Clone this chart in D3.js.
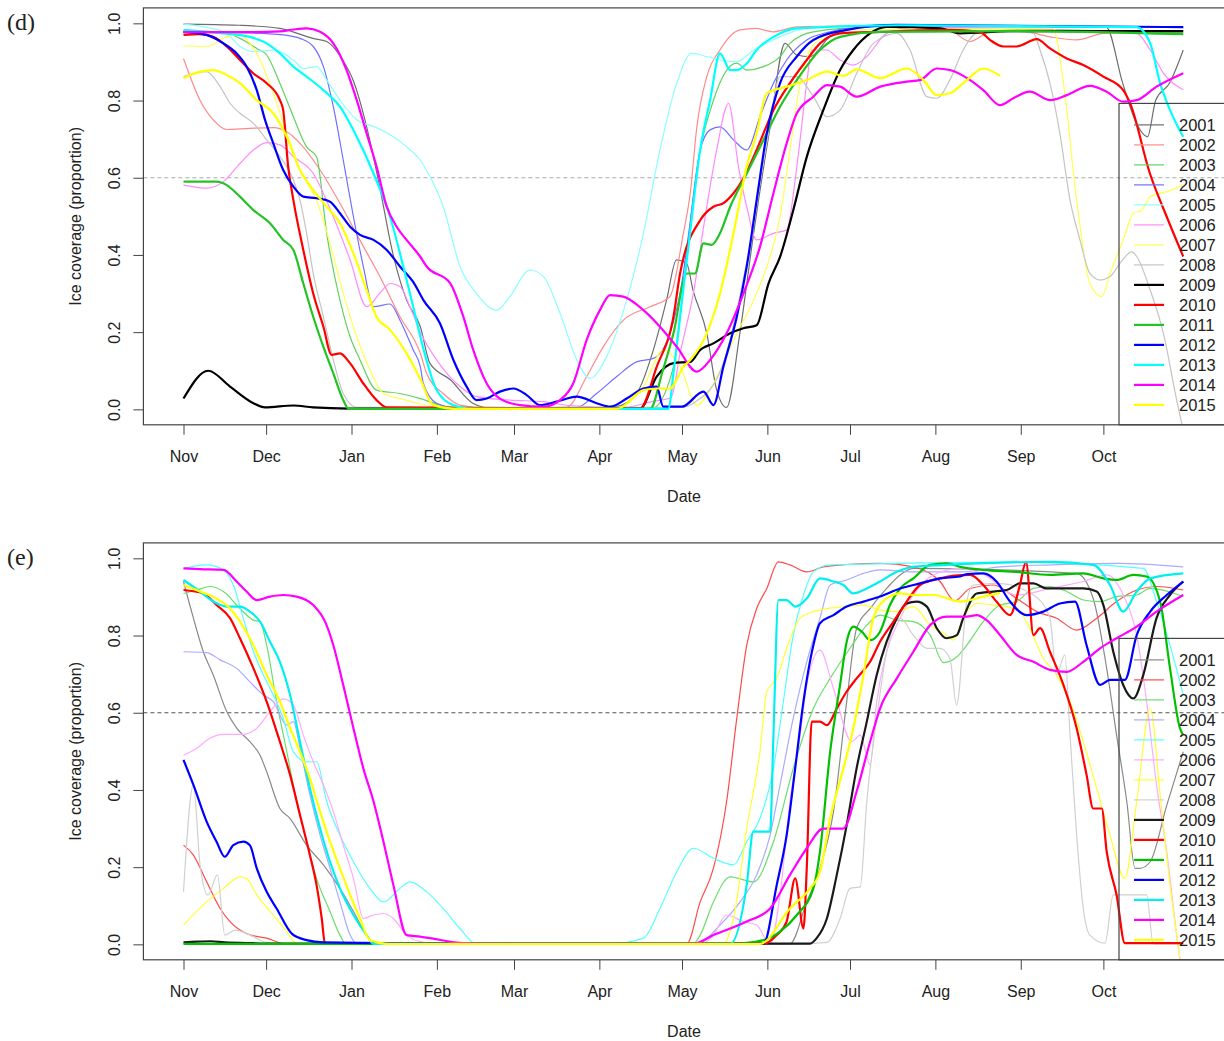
<!DOCTYPE html>
<html>
<head>
<meta charset="utf-8">
<script src="https://cdn.jsdelivr.net/npm/d3@7"></script>
<style>
  body { margin: 0; background: #fff; }
  text { font-family: "Liberation Sans", Arial, sans-serif; fill: #222; }
</style>
</head>
<body>
<svg></svg>
<script>
// day 0 = 1 Nov, values = ice coverage proportion
var years = ["2001","2002","2003","2004","2005","2006","2007","2008","2009","2010","2011","2012","2013","2014","2015"];
var monthDays = [0, 30, 61, 92, 120, 151, 181, 212, 242, 273, 304, 334];
var monthLabels = ["Nov","Dec","Jan","Feb","Mar","Apr","May","Jun","Jul","Aug","Sep","Oct"];
var yTicks = [0, 0.2, 0.4, 0.6, 0.8, 1.0];
var threshold = 0.6;

// ---- panel (d)
var d2001 = [[0,0.998],[20,0.995],[35,0.987],[47,0.961],[52,0.953],[57,0.914],[62,0.845],[66.5,0.732],[71,0.585],[76,0.404],[81,0.283],[86,0.214],[89.5,0.119],[97,0.076],[105,0.016],[112,0.003],[150,0.003],[157,0.007],[164.5,0.041],[170.6,0.154],[175.4,0.283],[179,0.387],[182.7,0.378],[185,0.309],[190,0.197],[193.6,0.05],[197.2,0.005],[202,0.197],[207,0.456],[213,0.732],[218.4,0.948],[222.7,0.918],[227.5,0.914],[234.8,0.965],[247,0.99],[300,0.99],[335,0.99],[341,0.845],[346,0.741],[350,0.706],[353,0.801],[358,0.845],[363,0.931]];
var d2002 = [[0,0.909],[6,0.801],[10.8,0.75],[15.7,0.725],[24,0.728],[32.6,0.73],[37.5,0.719],[42.3,0.689],[49.6,0.62],[56.8,0.534],[64,0.439],[71.3,0.344],[78.6,0.24],[86,0.145],[88.3,0.093],[94.3,0.041],[100.4,0.011],[110,0.003],[139,0.005],[146.4,0.085],[152.4,0.162],[159.7,0.231],[169.4,0.266],[176.6,0.292],[181.5,0.456],[184,0.56],[186.4,0.732],[190,0.862],[194.8,0.931],[202,0.983],[208,0.987],[214,0.978],[222.7,0.991],[260,0.995],[278,0.983],[285.6,0.953],[292.8,0.978],[302.5,0.983],[314.6,0.965],[324.3,0.957],[334,0.974],[363,0.978]];
var d2003 = [[0,0.977],[15,0.975],[20.5,0.961],[26.6,0.935],[30.2,0.918],[35,0.845],[39.9,0.758],[44.7,0.68],[48.3,0.655],[52,0.456],[56.8,0.283],[60.5,0.188],[64.1,0.128],[70.1,0.05],[78.6,0.041],[86,0.028],[95,0.008],[105,0.002],[170,0.002],[177.9,0.11],[182.7,0.4],[186.4,0.62],[192.4,0.8],[200.9,0.897],[204.5,0.879],[210.6,0.888],[216.6,0.914],[220.2,0.948],[228.7,0.978],[250,0.99],[363,0.975]];
var d2004 = [[0,0.977],[25,0.975],[36.2,0.97],[42.3,0.961],[47.1,0.94],[50.8,0.888],[54.4,0.784],[58,0.646],[61.7,0.499],[65.3,0.37],[69,0.266],[75,0.273],[78.6,0.231],[83.4,0.154],[86,0.11],[87.1,0.067],[91.9,0.016],[100,0.003],[142.8,0.005],[150,0.041],[157.3,0.085],[164.5,0.123],[170.6,0.132],[176.6,0.197],[181,0.33],[183.5,0.46],[187.6,0.672],[191.2,0.724],[194.8,0.732],[199.7,0.698],[204.5,0.672],[209.3,0.758],[214.2,0.845],[219,0.905],[226.3,0.957],[234.8,0.978],[253,0.996],[363,0.99]];
var d2005 = [[0,0.998],[8,0.99],[15.7,0.974],[20.5,0.94],[25.4,0.927],[32.6,0.931],[39.9,0.905],[43.5,0.883],[48.3,0.888],[52,0.853],[56.8,0.801],[62.9,0.75],[69,0.733],[76.2,0.706],[81,0.68],[85.9,0.646],[89.5,0.603],[94.3,0.525],[100.4,0.37],[106.4,0.3],[113.7,0.257],[118.5,0.292],[125.8,0.361],[130.7,0.344],[136.7,0.249],[142.8,0.128],[147.6,0.08],[153.6,0.136],[160.9,0.283],[167,0.456],[173,0.672],[179.1,0.845],[184.5,0.922],[190,0.914],[194.8,0.905],[200.9,0.901],[207,0.931],[216.6,0.965],[228.7,0.99],[363,0.99]];
var d2006 = [[0,0.581],[8.4,0.573],[14.5,0.59],[20.5,0.637],[25.4,0.672],[30.2,0.691],[35,0.685],[39.9,0.655],[47.1,0.611],[54.4,0.499],[60.5,0.387],[66.5,0.266],[71.3,0.301],[75,0.326],[78.6,0.318],[82.2,0.266],[86,0.2],[91.9,0.128],[100.4,0.059],[106.4,0.033],[118.5,0.024],[130.7,0.02],[140,0.01],[160,0.005],[170,0.02],[177,0.03],[180.3,0.145],[185.1,0.3],[190,0.525],[193.6,0.672],[197.9,0.793],[201.5,0.629],[204.5,0.525],[208.1,0.439],[214.2,0.456],[219,0.465],[222.7,0.629],[226.3,0.845],[228.1,0.931],[233.6,0.931],[238.4,0.905],[243.2,0.892],[248.1,0.914],[255.3,0.974],[265,0.99],[346,0.974],[351,0.931],[355.8,0.871],[363,0.828]];
var d2007 = [[0,0.942],[8.4,0.94],[15.7,0.965],[20.5,0.97],[24.1,0.948],[27.8,0.905],[32.6,0.819],[37.5,0.715],[42.3,0.62],[48.3,0.542],[53.2,0.43],[58,0.301],[62.9,0.188],[67.7,0.102],[72.6,0.041],[78.6,0.028],[84.7,0.016],[95,0.003],[157,0.003],[167,0.059],[174.2,0.154],[180.3,0.111],[186.4,0.011],[192.4,0.067],[200.9,0.197],[207,0.283],[211.8,0.37],[216.6,0.499],[220.2,0.672],[223.9,0.845],[227.5,0.931],[232.3,0.965],[240.8,0.983],[315.8,0.987],[319.5,0.845],[324.3,0.542],[329.1,0.326],[333.4,0.292],[336.4,0.352],[341.2,0.439],[344.9,0.508],[347.9,0.516],[351,0.551],[357,0.564],[363,0.581]];
var d2008 = [[0,0.862],[8.4,0.875],[13.3,0.836],[16.9,0.793],[20.5,0.767],[25.4,0.741],[30.2,0.698],[35,0.655],[39.9,0.594],[42.3,0.542],[44.7,0.456],[47.1,0.352],[50.8,0.24],[54.4,0.128],[58,0.041],[62.9,0.005],[180,0.005],[186,0.02],[195,0.1],[205,0.4],[212,0.7],[216.6,0.862],[222.7,0.862],[228.7,0.81],[233.6,0.758],[238.4,0.775],[244.4,0.87],[250.5,0.948],[259,0.974],[263.8,0.931],[269.9,0.81],[273.5,0.806],[278.3,0.854],[283.1,0.931],[288,0.974],[302.5,0.979],[308.6,0.974],[311,0.931],[314.6,0.845],[318.2,0.715],[321.9,0.542],[325.5,0.439],[329.1,0.352],[332.8,0.335],[336.4,0.344],[340,0.378],[344.3,0.408],[346.1,0.396],[351,0.309],[355.8,0.197],[360.6,0.024],[363,-0.054]];
var d2009 = [[0,0.028],[9,0.1],[16.9,0.059],[25.4,0.016],[29.6,0.005],[39.9,0.01],[47,0.005],[60,0.002],[165.8,0.002],[171.8,0.085],[177.9,0.12],[184,0.123],[187.6,0.154],[192.4,0.171],[198.5,0.197],[203.3,0.21],[208.1,0.218],[212.4,0.326],[216.6,0.395],[221.4,0.516],[226.3,0.654],[232.3,0.775],[238.4,0.879],[243.2,0.931],[249.3,0.974],[255.3,0.991],[265,0.99],[274.7,0.987],[282,0.974],[300,0.98],[363,0.98]];
var d2010 = [[0,0.97],[5.9,0.972],[10.8,0.965],[15.7,0.94],[20.5,0.905],[25.4,0.87],[30.2,0.845],[35,0.801],[36.2,0.775],[38,0.629],[39.9,0.542],[43.5,0.413],[47.1,0.3],[50.8,0.214],[53.8,0.141],[56.8,0.145],[60.5,0.119],[65.3,0.067],[70.1,0.024],[73.8,0.005],[165.8,0.002],[171.8,0.11],[177.9,0.24],[180.3,0.352],[187.6,0.49],[192.4,0.525],[196,0.534],[199.7,0.56],[203.3,0.598],[208.1,0.672],[214.2,0.775],[220.2,0.845],[226.3,0.905],[231.1,0.948],[238.4,0.974],[253,0.978],[278.3,0.983],[289.2,0.978],[292.8,0.957],[297.7,0.94],[302.5,0.94],[309.8,0.959],[314.6,0.935],[320.7,0.909],[326.7,0.892],[334,0.862],[341.2,0.827],[343.7,0.793],[350.9,0.611],[357,0.499],[363,0.396]];
var d2011 = [[0,0.59],[12,0.59],[15.7,0.581],[20.5,0.551],[25.4,0.516],[31.4,0.482],[36.2,0.439],[39.9,0.413],[43.5,0.326],[47.1,0.24],[50.8,0.162],[54.4,0.093],[58,0.024],[60,0.001],[169.4,0.001],[174,0.1],[177.9,0.197],[182.7,0.352],[185.7,0.352],[188.8,0.43],[191.8,0.426],[194.8,0.456],[198.5,0.525],[204.5,0.611],[210.6,0.698],[216.6,0.784],[222.7,0.853],[231.1,0.931],[238.4,0.965],[253,0.978],[300,0.98],[363,0.972]];
var d2012 = [[0,0.978],[8.4,0.97],[14.5,0.948],[19.3,0.922],[22.9,0.888],[26.6,0.827],[29.6,0.75],[32.6,0.689],[36.2,0.62],[39.9,0.577],[43.5,0.551],[48.3,0.547],[53.2,0.538],[56.8,0.508],[60.5,0.473],[64.1,0.452],[69,0.439],[73.8,0.413],[78.6,0.37],[83.4,0.33],[87.1,0.283],[93.1,0.223],[98,0.128],[102.8,0.059],[106.4,0.024],[110.1,0.028],[114.9,0.046],[119.8,0.054],[124.6,0.037],[129.4,0.011],[135.5,0.02],[142.8,0.033],[150,0.016],[154.9,0.007],[160.9,0.028],[167,0.054],[171.8,0.059],[174.2,0.007],[181,0.007],[188.8,0.046],[192.4,0.011],[196,0.11],[200.9,0.24],[204.5,0.37],[208.1,0.542],[211.8,0.715],[216.6,0.845],[222.7,0.914],[228.7,0.957],[240.8,0.983],[259,0.996],[363,0.99]];
var d2013 = [[0,0.983],[14.5,0.974],[24.1,0.965],[30.2,0.948],[35,0.922],[39.9,0.888],[44.7,0.862],[50.8,0.827],[56.8,0.784],[62.9,0.706],[69,0.611],[75,0.499],[79.8,0.37],[83.4,0.266],[87,0.16],[91.9,0.05],[98,0.011],[105,0.001],[176,0.001],[178,0.1],[180.3,0.24],[183.9,0.456],[187.6,0.672],[191.2,0.801],[194.8,0.922],[198.5,0.879],[200.9,0.879],[204.5,0.896],[208.1,0.931],[214.2,0.965],[222.7,0.987],[260,0.995],[346,0.99],[351,0.948],[354.6,0.845],[358.2,0.775],[363,0.706]];
var d2014 = [[0,0.977],[20.5,0.977],[35,0.979],[39.9,0.984],[44.7,0.987],[49.6,0.978],[54.4,0.948],[59.2,0.879],[62.9,0.801],[66.5,0.715],[70.1,0.629],[73.8,0.525],[77.4,0.473],[81,0.439],[85.9,0.396],[88.3,0.37],[96.8,0.327],[101.6,0.24],[105.2,0.154],[110.1,0.067],[114.9,0.028],[122.2,0.011],[130.7,0.007],[136.7,0.024],[141.5,0.067],[146.4,0.18],[151.2,0.257],[154.9,0.296],[159.7,0.292],[167,0.257],[173,0.214],[179.1,0.162],[186.4,0.098],[191.2,0.128],[197.2,0.197],[203.3,0.3],[209.3,0.421],[214.2,0.56],[219,0.689],[222.7,0.767],[228.7,0.81],[233.6,0.84],[238.4,0.836],[244.4,0.81],[253,0.836],[262.6,0.849],[267.4,0.853],[273.5,0.883],[278.3,0.879],[285.6,0.853],[290.4,0.827],[296.5,0.788],[301.3,0.806],[307.3,0.823],[314.6,0.801],[320.7,0.814],[329.1,0.838],[335.2,0.823],[341.2,0.797],[346.1,0.801],[353.3,0.836],[363,0.871]];
var d2015 = [[0,0.858],[6,0.875],[10.8,0.879],[15.7,0.866],[20.5,0.845],[26.6,0.801],[32.6,0.767],[37.5,0.706],[42.3,0.62],[47.1,0.568],[52,0.525],[56.8,0.482],[61.7,0.404],[66.5,0.309],[70.1,0.24],[75,0.206],[81,0.145],[85.9,0.08],[90.7,0.011],[100,0.001],[157.3,0.001],[167,0.05],[171.8,0.054],[176.6,0.054],[181.5,0.11],[184,0.128],[190,0.197],[194.8,0.3],[199.7,0.456],[204.5,0.629],[208.1,0.715],[211.8,0.819],[219,0.836],[226.3,0.853],[233.6,0.875],[239.6,0.864],[244.4,0.881],[253,0.858],[262.6,0.883],[268.7,0.853],[273.5,0.814],[278.3,0.819],[284.4,0.853],[290.4,0.883],[296.5,0.864]];

// ---- panel (e)
var e2001 = [[0,0.94],[3.6,0.845],[7.2,0.758],[10.8,0.698],[15.7,0.603],[19.3,0.56],[24.1,0.525],[27.8,0.49],[30.2,0.447],[35,0.352],[38.7,0.326],[44.7,0.257],[50.8,0.206],[56.8,0.145],[61.7,0.085],[66.5,0.024],[69,0.001],[220.2,0.001],[226.3,0.11],[231.1,0.197],[236,0.344],[240.8,0.629],[244.4,0.819],[249.3,0.87],[255.3,0.922],[260.2,0.957],[265,0.974],[324.3,0.961],[330.3,0.896],[335.2,0.715],[338.8,0.542],[342.5,0.37],[345.5,0.197],[347.3,0.197],[351,0.214],[357,0.36],[363,0.499]];
var e2002 = [[0,0.257],[3.6,0.231],[8.4,0.162],[13.3,0.093],[16.9,0.059],[22.9,0.028],[30.2,0.016],[37.5,0.001],[182.7,0.001],[187.6,0.11],[192.4,0.197],[197.2,0.37],[200.9,0.586],[204.5,0.775],[208.1,0.87],[211.8,0.922],[216,0.991],[220.2,0.983],[226.3,0.965],[232.3,0.978],[240.8,0.984],[252.9,0.987],[265,0.978],[274.7,0.94],[280,0.89],[285.6,0.922],[294,0.931],[302.5,0.896],[309.8,0.862],[317,0.845],[324.3,0.814],[331.6,0.845],[338.8,0.888],[346.1,0.918],[353.3,0.927],[363,0.918]];
var e2003 = [[0,0.909],[4.8,0.918],[9.6,0.927],[14.5,0.914],[20.5,0.87],[25.4,0.84],[27.8,0.836],[30.2,0.775],[33.8,0.629],[37.5,0.499],[41.1,0.37],[44.7,0.266],[48.3,0.171],[53.2,0.085],[56.8,0.024],[59,0.001],[185,0.001],[187.6,0.024],[192.4,0.11],[198.5,0.175],[207,0.162],[214.2,0.266],[221.4,0.456],[228.7,0.611],[234.8,0.689],[242,0.767],[248.1,0.827],[252.9,0.853],[259,0.84],[265,0.836],[271.1,0.801],[276,0.73],[280.8,0.745],[284.4,0.775],[290.4,0.836],[296.5,0.879],[302.5,0.888],[308.6,0.922],[314.6,0.927],[320.7,0.914],[326.7,0.892],[332.8,0.888],[338.8,0.901],[346.1,0.905],[351,0.922],[363,0.901]];
var e2004 = [[0,0.758],[8.4,0.756],[13.3,0.737],[19.3,0.715],[24.1,0.68],[29,0.646],[32.6,0.629],[37.5,0.568],[39.9,0.577],[42.3,0.508],[45.9,0.387],[49.6,0.283],[53.2,0.197],[56.8,0.11],[60.5,0.024],[63,0.001],[186.4,0.001],[194.8,0.05],[202.1,0.11],[208.1,0.18],[213,0.283],[216.6,0.413],[221.4,0.586],[226.3,0.732],[231.1,0.845],[234.8,0.931],[240.8,0.944],[246.9,0.961],[252.9,0.97],[265,0.965],[282,0.965],[296.5,0.978],[314.6,0.983],[338.8,0.987],[363,0.978]];
var e2005 = [[0,0.974],[8.4,0.983],[14.5,0.97],[18.1,0.931],[21.7,0.845],[25.4,0.758],[29,0.698],[32.6,0.646],[36.2,0.586],[39.9,0.499],[44.7,0.473],[48.3,0.473],[52,0.37],[56.8,0.283],[61.7,0.214],[67.7,0.145],[72.6,0.11],[78.6,0.145],[82.2,0.162],[88.3,0.136],[94.3,0.093],[100.4,0.041],[106.4,0.001],[155,0.001],[167,0.016],[173,0.093],[179.1,0.188],[185.1,0.249],[192.4,0.223],[199.7,0.206],[204.5,0.266],[209.3,0.326],[214.2,0.456],[217.8,0.629],[221.4,0.801],[225.1,0.905],[228.7,0.965],[234.8,0.983],[300,0.99],[348.5,0.974],[353.3,0.888],[358.2,0.775],[363,0.646]];
var e2006 = [[0,0.49],[4.8,0.508],[9.6,0.534],[14.5,0.544],[21.7,0.544],[26.6,0.56],[31.4,0.603],[36.2,0.636],[39.9,0.62],[43.5,0.542],[47.1,0.473],[50.8,0.413],[54.4,0.344],[58,0.257],[61.7,0.171],[65.3,0.067],[69,0.076],[72.6,0.08],[76.2,0.067],[81,0.024],[85.9,0.007],[92,0.001],[188,0.001],[192.4,0.024],[197.2,0.076],[203.3,0.059],[208.1,0.05],[213,0.0],[216.6,0.128],[220.2,0.37],[223.9,0.542],[226.3,0.672],[231.1,0.762],[236,0.663],[242.6,0.525],[245.7,0.542],[249.3,0.465],[251.7,0.629],[255.3,0.758],[260.2,0.845],[265,0.905],[272.3,0.957],[282,0.974],[290,0.96],[302.5,0.905],[314.6,0.922],[326.7,0.94],[335.2,0.957],[341.2,0.905],[346.1,0.801],[349.7,0.629],[353.3,0.413],[357,0.24],[360.6,0.024],[362,-0.05]];
var e2007 = [[0,0.05],[8.4,0.11],[14.5,0.145],[20.5,0.175],[22.9,0.171],[26.6,0.128],[32.6,0.076],[37.5,0.033],[41.1,0.001],[196,0.001],[199.7,0.067],[204.5,0.3],[209.3,0.499],[211.8,0.655],[215.4,0.689],[219,0.767],[223.9,0.845],[228.7,0.862],[233.6,0.87],[240.8,0.875],[246.9,0.879],[253,0.866],[259,0.862],[265,0.875],[271.1,0.827],[277.1,0.801],[279.5,0.788],[283.1,0.845],[288,0.883],[294,0.879],[298.9,0.875],[303.7,0.862],[307.3,0.819],[312.2,0.741],[317,0.698],[321.9,0.629],[326.7,0.525],[331.6,0.404],[336.4,0.283],[341.8,0.171],[346.1,0.37],[351,0.611],[354.6,0.387],[358.2,0.154],[361.8,-0.036]];
var e2008 = [[0,0.136],[3.6,0.413],[6,0.206],[8.9,0.128],[12.3,0.18],[15,0.024],[18.7,0.037],[24.1,0.024],[30.2,0.005],[40,0.001],[221.4,0.001],[233.6,0.005],[238.4,0.067],[242,0.145],[245.7,0.149],[248.1,0.37],[251.7,0.586],[255.3,0.758],[260.2,0.845],[265,0.801],[269.9,0.767],[274.7,0.767],[278.3,0.74],[280.7,0.62],[284.4,0.888],[286.8,0.931],[296,0.935],[308.6,0.905],[314.6,0.845],[317,0.698],[320,0.75],[321.9,0.542],[324.3,0.283],[326.7,0.093],[329.1,0.024],[334.6,0.003],[337.6,0.128],[349.7,0.128],[352.1,0.001],[363,0.001]];
var e2009 = [[0,0.005],[5,0.007],[10,0.008],[15,0.005],[25,0.003],[35,0.002],[227.5,0.002],[229.9,0.016],[233.6,0.067],[237.2,0.18],[240.8,0.309],[244.4,0.456],[248.1,0.577],[251.7,0.698],[255.3,0.784],[259,0.845],[262.6,0.883],[266.2,0.888],[269.9,0.875],[273.5,0.819],[277.1,0.793],[280.8,0.801],[283.1,0.845],[288,0.909],[294,0.914],[298.9,0.918],[303.7,0.935],[308.6,0.935],[313.4,0.922],[320.7,0.922],[326.7,0.922],[331.6,0.914],[334,0.879],[337.6,0.758],[341.2,0.672],[344.9,0.637],[348.5,0.698],[353.3,0.845],[358.2,0.905],[363,0.94]];
var e2010 = [[0,0.918],[7.2,0.909],[12,0.879],[16.9,0.845],[20.5,0.793],[25.4,0.715],[30.2,0.629],[35,0.525],[38.7,0.439],[42.3,0.335],[45.9,0.231],[48.3,0.154],[50.2,0.067],[51.4,0.001],[210.6,0.001],[215.4,0.024],[219,0.059],[222.1,0.171],[225.1,0.041],[226.3,0.197],[228.1,0.577],[231.1,0.577],[233.6,0.568],[237.2,0.611],[240.8,0.655],[244.4,0.689],[249.3,0.732],[252.9,0.784],[257.8,0.836],[262.6,0.888],[267.4,0.931],[274.7,0.948],[280,0.955],[285.6,0.957],[290.4,0.931],[295.2,0.888],[300.1,0.853],[303.7,0.931],[305.9,0.991],[308.6,0.801],[311,0.819],[314.6,0.758],[319.5,0.672],[324.3,0.56],[327.9,0.439],[330.3,0.352],[333.4,0.352],[335.2,0.24],[338.8,0.128],[341.8,0.003],[363,0.003]];
var e2011 = [[0,0.001],[198.5,0.001],[210.6,0.011],[216.6,0.033],[222.7,0.076],[228.7,0.145],[231.1,0.24],[234.8,0.499],[238.4,0.672],[240.8,0.784],[243.2,0.823],[246.3,0.81],[249.3,0.788],[252.9,0.81],[256.5,0.879],[260.2,0.922],[265,0.948],[271.1,0.983],[277.1,0.987],[282,0.978],[290.4,0.97],[302.5,0.965],[314.6,0.957],[326.7,0.961],[334,0.948],[338.8,0.944],[344.9,0.957],[349.7,0.953],[354.6,0.888],[358.2,0.715],[361.8,0.56],[363,0.542]];
var e2012 = [[0,0.478],[3.6,0.413],[8.4,0.318],[12,0.266],[15,0.227],[18.1,0.257],[21.7,0.266],[24.1,0.257],[26.6,0.197],[30.2,0.136],[33.8,0.093],[39.3,0.028],[44.7,0.011],[50.8,0.005],[80,0.003],[210.6,0.002],[215.4,0.154],[219,0.283],[222.1,0.456],[225.1,0.629],[228.7,0.775],[231.1,0.832],[236,0.853],[240.8,0.875],[246.9,0.888],[252.9,0.901],[260.2,0.922],[267.4,0.935],[274.7,0.948],[282,0.953],[284.4,0.959],[290.4,0.961],[295.2,0.94],[300.1,0.888],[306.1,0.853],[312.2,0.862],[318.2,0.883],[323.7,0.888],[327.9,0.775],[332.8,0.672],[336.4,0.685],[341.8,0.685],[346.1,0.801],[351,0.862],[357,0.905],[363,0.94]];
var e2013 = [[0,0.944],[6,0.914],[10.8,0.888],[15.7,0.875],[20.5,0.875],[24.1,0.862],[27.8,0.836],[31.4,0.784],[35,0.732],[38.7,0.646],[42.3,0.525],[45.9,0.404],[49.6,0.3],[53.2,0.214],[56.8,0.145],[61.7,0.076],[66.5,0.024],[69,0.001],[198.5,0.001],[204.5,0.154],[206.9,0.292],[213,0.292],[214.2,0.542],[216,0.892],[219,0.892],[222.1,0.875],[226.3,0.896],[231.1,0.948],[236,0.94],[239.6,0.931],[243.2,0.909],[248.1,0.922],[252.9,0.94],[259,0.965],[265,0.978],[277.1,0.983],[314.6,0.991],[330.3,0.983],[336.4,0.931],[341.2,0.862],[346.1,0.914],[351,0.948],[363,0.961]];
var e2014 = [[0,0.974],[6,0.972],[14.5,0.97],[19.3,0.94],[22.9,0.914],[26.6,0.892],[31.4,0.901],[36.2,0.905],[41.1,0.901],[47.1,0.879],[51.4,0.836],[54.4,0.775],[58,0.672],[61.7,0.56],[65.3,0.456],[69,0.37],[72.6,0.266],[76.2,0.154],[81,0.024],[85.9,0.02],[89.5,0.016],[101.6,0.003],[110,0.001],[185,0.001],[192.4,0.024],[204.5,0.059],[213,0.093],[220.2,0.18],[226.3,0.249],[232.3,0.3],[239.6,0.3],[244.4,0.396],[249.3,0.525],[252.9,0.611],[259,0.689],[265,0.758],[271.1,0.827],[277.1,0.849],[284.4,0.849],[288,0.853],[291.6,0.84],[296.5,0.801],[302.5,0.75],[308.6,0.732],[314.6,0.711],[320.7,0.706],[326.7,0.732],[332.8,0.767],[338.8,0.793],[346.1,0.823],[353.3,0.862],[363,0.905]];
var e2015 = [[0,0.931],[6,0.914],[12,0.896],[16.9,0.87],[20.5,0.836],[25.4,0.775],[30.2,0.698],[35,0.629],[38.7,0.56],[42.3,0.499],[45.9,0.43],[49.6,0.344],[53.2,0.266],[56.8,0.197],[60.5,0.128],[64.1,0.067],[67.7,0.011],[75,0.001],[209.3,0.001],[220.2,0.093],[227.5,0.145],[231.1,0.188],[234.8,0.326],[239.6,0.456],[243.2,0.56],[246.9,0.698],[250.5,0.845],[255.3,0.896],[260.2,0.909],[265,0.905],[272.3,0.905],[282,0.888],[290,0.9],[296.5,0.91]];

var panelD = [d2001,d2002,d2003,d2004,d2005,d2006,d2007,d2008,d2009,d2010,d2011,d2012,d2013,d2014,d2015];
var panelE = [e2001,e2002,e2003,e2004,e2005,e2006,e2007,e2008,e2009,e2010,e2011,e2012,e2013,e2014,e2015];

// styles
var colorsD = ["#6e6e6e","#ff8a8a","#5fd35f","#7070ff","#8affff","#ff8aff","#ffff50","#c4c4c4","#000000","#ff0000","#22c322","#0000ff","#00ffff","#ff00ff","#ffff00"];
var colorsE = ["#8a8a8a","#ff4a4a","#6ade6a","#aaaaff","#55ffff","#ffaaff","#ffff30","#d0d0d0","#1a1a1a","#ff0000","#00c000","#0000ff","#00f0f0","#ff00ff","#ffff00"];
var widths = [1.2,1.2,1.2,1.2,1.2,1.2,1.2,1.2,2.2,2.2,2.2,2.2,2.2,2.2,2.2];

var width = 1224, height = 1041;
var svg = d3.select("svg").attr("width", width).attr("height", height);
svg.append("rect").attr("width", width).attr("height", height).attr("fill", "#fff");

var x = d3.scaleLinear().domain([-14.56, 378.56]).range([143.4, 1226.1]);

var panels = [
    {label: "(d)", top: 7.9, series: panelD, colors: colorsD, dash: "#aaaaaa"},
    {label: "(e)", top: 542.9, series: panelE, colors: colorsE, dash: "#555555"}
];

panels.forEach((p, pi)=>{
    var y = d3.scaleLinear().domain([-0.04, 1.04]).range([p.top + 416.9, p.top]);
    var bottom = p.top + 416.9;
    var g = svg.append("g");

    g.append("clipPath").attr("id", "clip" + pi)
        .append("rect")
        .attr("x", x.range()[0]).attr("y", p.top)
        .attr("width", x.range()[1] - x.range()[0]).attr("height", 416.9);

    // x axis
    var xAxis = d3.axisBottom(x).tickValues(monthDays)
        .tickFormat((d, i)=>monthLabels[i]).tickSize(10).tickPadding(16);
    var xa = g.append("g").attr("transform", "translate(0," + bottom + ")").call(xAxis);
    xa.select(".domain").remove();
    xa.selectAll("line").attr("stroke", "#444");
    xa.selectAll("text").attr("font-size", 16).attr("fill", "#222")
        .attr("font-family", "Liberation Sans, Arial, sans-serif");

    // y axis (R style, labels parallel to axis)
    var ya = g.append("g").attr("transform", "translate(" + x.range()[0] + ",0)")
        .call(d3.axisLeft(y).tickValues(yTicks).tickFormat(d3.format(".1f")).tickSize(10));
    ya.select(".domain").remove();
    ya.selectAll("line").attr("stroke", "#444");
    ya.selectAll("text")
        .attr("font-size", 16).attr("fill", "#222")
        .attr("font-family", "Liberation Sans, Arial, sans-serif")
        .attr("text-anchor", "middle")
        .attr("x", 0).attr("dy", 0)
        .attr("transform", "translate(-29,0) rotate(-90)")
        .attr("dominant-baseline", "central");

    // threshold
    g.append("line")
        .attr("x1", x.range()[0]).attr("x2", x.range()[1])
        .attr("y1", y(threshold)).attr("y2", y(threshold))
        .attr("stroke", p.dash).attr("stroke-width", 1.2).attr("stroke-dasharray", "4,3");

    var line = d3.line().x(d=>x(d[0])).y(d=>y(d[1])).curve(d3.curveMonotoneX);

    g.append("g").attr("clip-path", "url(#clip" + pi + ")")
        .selectAll(".series")
        .data(p.series)
        .enter()
        .append("path")
            .classed("series", true)
            .attr("d", line)
            .attr("fill", "none")
            .attr("stroke", (d, i)=>p.colors[i])
            .attr("stroke-width", (d, i)=>widths[i])
            .attr("stroke-linejoin", "round");

    // box
    g.append("rect")
        .attr("x", x.range()[0]).attr("y", p.top)
        .attr("width", x.range()[1] - x.range()[0]).attr("height", 416.9)
        .attr("fill", "none").attr("stroke", "#444").attr("stroke-width", 1.2);

    // legend
    var lg = g.append("g");
    lg.append("rect")
        .attr("x", 1119).attr("y", p.top + 95.5)
        .attr("width", 200).attr("height", bottom - p.top - 95.5)
        .attr("fill", "none").attr("stroke", "#444").attr("stroke-width", 1.2);
    years.forEach((yr, i)=>{
        var yy = p.top + 117 + i * 20;
        lg.append("line").attr("x1", 1134).attr("x2", 1164).attr("y1", yy).attr("y2", yy)
            .attr("stroke", p.colors[i]).attr("stroke-width", widths[i]);
        lg.append("text").attr("x", 1179).attr("y", yy).attr("dy", "0.36em")
            .attr("font-size", 16.5).text(yr);
    });

    // titles
    g.append("text").attr("x", 684).attr("y", p.top + 494).attr("text-anchor", "middle")
        .attr("font-size", 16).text("Date");
    g.append("text").attr("transform", "translate(75," + (p.top + 208.5) + ") rotate(-90)")
        .attr("text-anchor", "middle").attr("dy", "0.35em")
        .attr("font-size", 16).text("Ice coverage (proportion)");
    g.append("text").attr("x", 7).attr("y", p.top + 22)
        .style("font-family", "Liberation Serif, Times New Roman, serif")
        .attr("font-size", 24).text(p.label);
});
</script>
</body>
</html>
